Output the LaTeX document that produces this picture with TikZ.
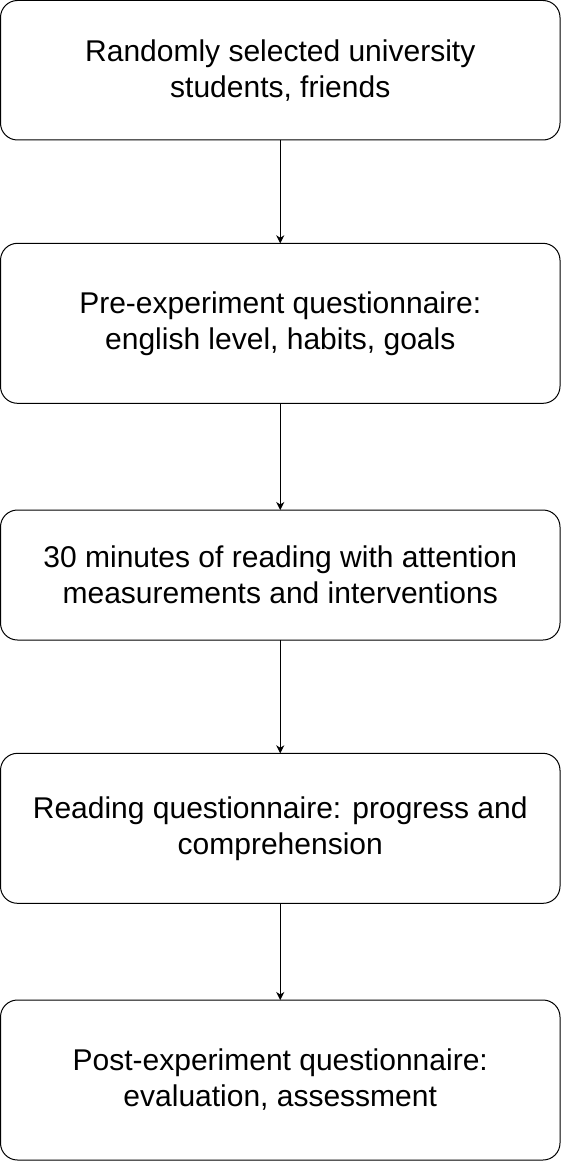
\documentclass[tikz,border=0pt]{standalone}
\usepackage{fontspec}
\setmainfont{Liberation Sans}
\usetikzlibrary{arrows.meta}
\begin{document}
\begin{tikzpicture}[x=1pt,y=-1pt,
  stepbox/.style={draw=black, line width=1pt, rounded corners=17pt, fill=white,
    minimum width=559.5pt, inner sep=0pt, outer sep=0pt, align=center,
    font=\fontsize{30}{36}\selectfont},
  flow/.style={draw=black, line width=1pt, -{Stealth[length=8pt,width=8pt,inset=2.5pt]}}]
\useasboundingbox (0,0) rectangle (561,1161);
\node[stepbox, minimum height=139.5pt] (b1) at (280.25,70.25) {Randomly selected university\\students, friends};
\node[stepbox, minimum height=160pt] (b2) at (280.25,323.3) {Pre-experiment questionnaire:\\english level, habits, goals};
\node[stepbox, minimum height=130pt] (b3) at (280.25,575) {30 minutes of reading with attention\\measurements and interventions};
\node[stepbox, minimum height=150pt] (b4) at (280.25,828.3) {Reading questionnaire: progress and\\comprehension};
\node[stepbox, minimum height=160pt] (b5) at (280.25,1080) {Post-experiment questionnaire:\\evaluation, assessment};
\draw[flow] (b1.south) -- (b2.north);
\draw[flow] (b2.south) -- (b3.north);
\draw[flow] (b3.south) -- (b4.north);
\draw[flow] (b4.south) -- (b5.north);
\end{tikzpicture}
\end{document}
